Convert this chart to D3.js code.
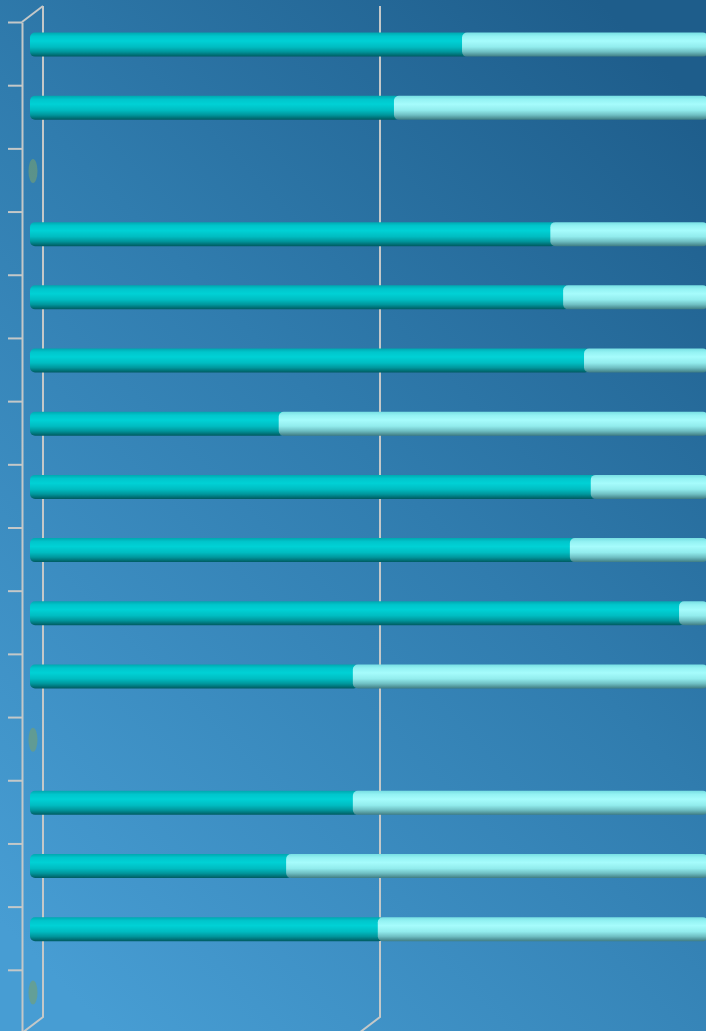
<!DOCTYPE html>
<html>
<head>
<meta charset="utf-8">
<script src="https://cdn.jsdelivr.net/npm/d3@7"></script>
<style>
  html, body { margin: 0; padding: 0; overflow: hidden; }
</style>
</head>
<body>
<div id="chart"></div>
<script>
// categories (labels are not shown in the picture)
const categories = ['A', 'B', 'C', 'D', 'E', 'F', 'G', 'H', 'I', 'J', 'K', 'L', 'M', 'N', 'O', 'P'];
// share of the first series, percent; 0 means an empty row
const seriesDark = [64.1, 54.0, 0, 77.2, 79.1, 82.2, 36.9, 83.2, 80.1, 96.3, 47.9, 0, 47.9, 38.0, 51.6, 0];
// share of the second series, percent
const seriesLight = [35.9, 46.0, 0, 22.8, 20.9, 17.8, 63.1, 16.8, 19.9, 3.7, 52.1, 0, 52.1, 62.0, 48.4, 0];
// grid lines visible on the back wall
const gridValues = [0, 50];

const svgParams = {
    width: 706,
    height: 1031,
    front: {top: 22, bottom: 1033, left: 22},
    depth: {dx: 21, dy: -16},
    barOffset: {dx: 8, dy: -9},
    barHeight: 24,
    lineColor: '#c4c8c8'
};

function createSVG(containerId) {
    return d3.select(containerId)
        .append("svg")
        .attr("width", svgParams.width)
        .attr("height", svgParams.height)
        .style("display", "block");
}

function addDefs(svg) {
    const defs = svg.append("defs");

    const bg = defs.append("linearGradient")
        .attr("id", "bg")
        .attr("x1", "0.85").attr("y1", "0")
        .attr("x2", "0.15").attr("y2", "1");
    bg.append("stop").attr("offset", "0").attr("stop-color", "#1e5d8b");
    bg.append("stop").attr("offset", "0.45").attr("stop-color", "#307cae");
    bg.append("stop").attr("offset", "1").attr("stop-color", "#479dd3");

    const dark = defs.append("linearGradient")
        .attr("id", "barDark")
        .attr("x1", 0).attr("y1", 0).attr("x2", 0).attr("y2", 1);
    [["0", "#00a8b0"], ["0.15", "#00c6cc"], ["0.35", "#00d1d5"], ["0.6", "#00bcc1"],
     ["0.8", "#00969c"], ["1", "#005a60"]].forEach(s => {
        dark.append("stop").attr("offset", s[0]).attr("stop-color", s[1]);
    });

    const light = defs.append("linearGradient")
        .attr("id", "barLight")
        .attr("x1", 0).attr("y1", 0).attr("x2", 0).attr("y2", 1);
    [["0", "#78dfe3"], ["0.15", "#94f2f3"], ["0.35", "#a6fcfc"], ["0.6", "#92eced"],
     ["0.8", "#6fbfc3"], ["1", "#3f7c82"]].forEach(s => {
        light.append("stop").attr("offset", s[0]).attr("stop-color", s[1]);
    });
}

function createGraph() {
    const svg = createSVG("#chart");
    addDefs(svg);

    svg.append("rect")
        .attr("width", svgParams.width)
        .attr("height", svgParams.height)
        .attr("fill", "url(#bg)");

    const f = svgParams.front;
    const dp = svgParams.depth;
    const bo = svgParams.barOffset;

    // value scale on the front plane
    const x = d3.scaleLinear()
        .domain([0, 100])
        .range([f.left, f.left + 674]);

    const y = d3.scaleBand()
        .domain(categories)
        .range([f.top, f.bottom])
        .paddingInner(0);

    const yTicks = d3.scaleLinear()
        .domain([0, categories.length])
        .range([f.top, f.bottom]);

    const grid = svg.append("g")
        .attr("fill", "none")
        .attr("stroke", svgParams.lineColor)
        .attr("stroke-width", 2);

    // back wall grid lines with the floor and top edges
    gridValues.forEach(v => {
        const xf = x(v);
        const xb = xf + dp.dx;
        grid.append("path")
            .attr("d", `M${xb},${f.top + dp.dy} L${xb},${f.bottom + dp.dy} L${xf},${f.bottom}`);
    });
    grid.append("path")
        .attr("d", `M${x(0)},${f.top} L${x(0) + dp.dx},${f.top + dp.dy}`);

    // category axis on the front
    svg.append("g")
        .attr("transform", `translate(${f.left},0)`)
        .call(d3.axisLeft(yTicks).ticks(categories.length).tickSize(14).tickFormat("").tickSizeOuter(0))
        .call(g => g.selectAll("line, path").attr("stroke", svgParams.lineColor).attr("stroke-width", 2));

    const rows = svg.append("g")
        .selectAll("g")
        .data(categories)
        .enter().append("g")
        .attr("transform", d => `translate(${bo.dx},${y(d) + y.bandwidth() / 2 + bo.dy - svgParams.barHeight / 2})`);

    const h = svgParams.barHeight;

    // empty rows: just the end cap
    rows.filter((d, i) => seriesDark[i] + seriesLight[i] === 0)
        .append("ellipse")
        .attr("cx", x(0) + 3)
        .attr("cy", h / 2)
        .attr("rx", 4.5)
        .attr("ry", 12)
        .attr("fill", "#76a070")
        .attr("opacity", 0.6);

    const filled = rows.filter((d, i) => seriesDark[i] + seriesLight[i] > 0);

    filled.append("rect")
        .attr("x", x(0))
        .attr("y", 0)
        .attr("width", d => x(seriesDark[categories.indexOf(d)]) - x(0) + 6)
        .attr("height", h)
        .attr("rx", 5)
        .attr("fill", "url(#barDark)");

    filled.append("rect")
        .attr("x", d => x(seriesDark[categories.indexOf(d)]))
        .attr("y", 0)
        .attr("width", d => {
            const i = categories.indexOf(d);
            return x(seriesDark[i] + seriesLight[i]) - x(seriesDark[i]) + 4;
        })
        .attr("height", h)
        .attr("rx", 5)
        .attr("fill", "url(#barLight)");
}

createGraph();
</script>
</body>
</html>
